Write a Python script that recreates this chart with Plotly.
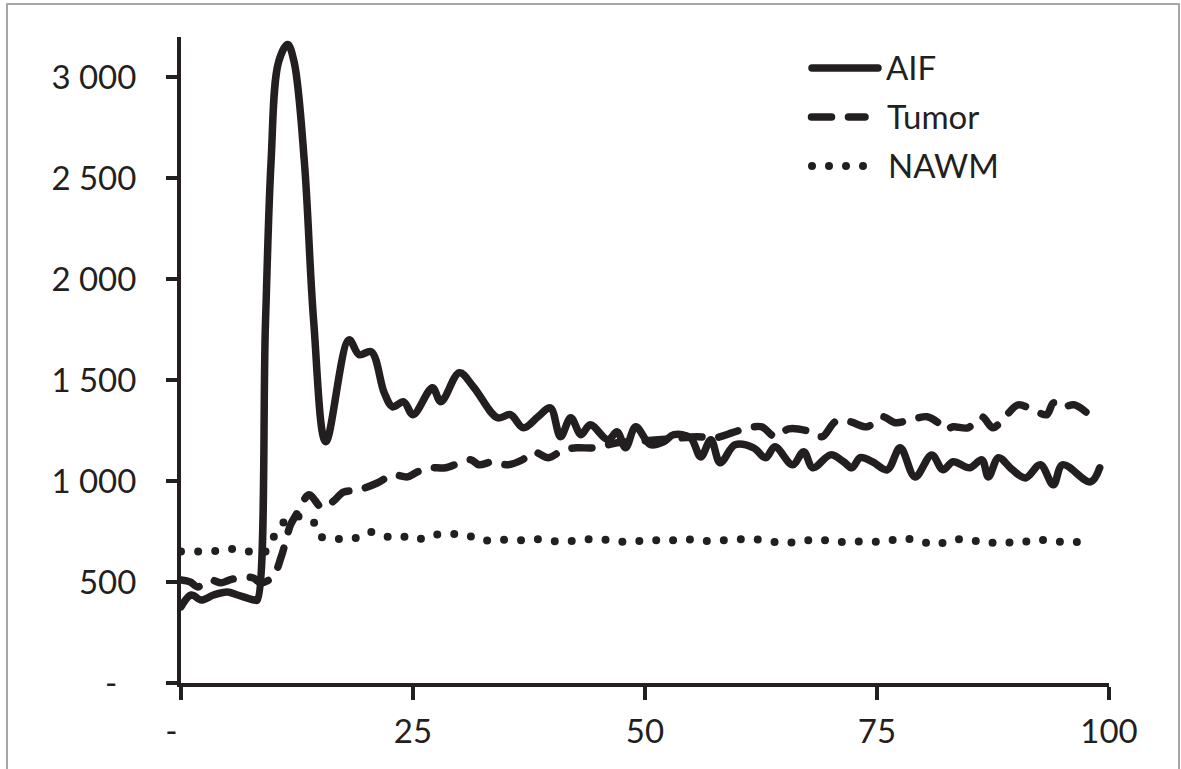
import plotly.graph_objects as go

# ---------------- data ----------------
aif_time = [0, 1.1, 2.2, 3.5, 5.0, 6.1, 7.9, 8.2, 9.1, 9.7, 10.5, 11.5, 12.2, 13.3, 14.3, 15.6,
            18.1, 19.2, 20.5, 21.9, 22.8, 24.0, 25.0, 27.1, 28.0, 30.0, 31.5, 34.1, 35.5, 36.9,
            38.5, 39.8, 40.9, 42.0, 43.1, 44.1, 46.0, 47.0, 47.9, 49.0, 50.6, 52.0, 53.1, 54.9,
            56.0, 57.1, 58.1, 59.7, 61.7, 63.0, 64.0, 65.9, 67.1, 68.1, 70.0, 71.4, 72.3, 73.2,
            74.5, 76.1, 77.5, 79.1, 80.9, 82.1, 83.2, 85.0, 86.3, 87.0, 88.1, 89.5, 91.0, 92.6,
            94.0, 95.0, 98.0, 99.0]
aif_signal = [377, 436, 411, 436, 451, 436, 411, 410, 1780, 2578, 3074, 3163, 3074, 2578, 1790, 1195,
              1700, 1626, 1641, 1438, 1368, 1393, 1329, 1462, 1393, 1537, 1468, 1314, 1329, 1264,
              1320, 1363, 1220, 1314, 1230, 1279, 1205, 1244, 1165, 1269, 1180, 1195, 1230, 1215,
              1120, 1205, 1091, 1180, 1165, 1116, 1170, 1081, 1145, 1066, 1130, 1096, 1066, 1116,
              1096, 1056, 1165, 1021, 1130, 1056, 1096, 1066, 1106, 1021, 1116, 1060, 1016, 1081,
              982, 1081, 996, 1066]

tumor_time = [0, 1.0, 1.8, 3.2, 4.3, 5.2, 6.7, 7.8, 8.6, 9.9, 10.8, 11.8, 12.4, 13.8, 15.2, 16.4,
              17.5, 19.2, 21.2, 22.8, 24.4, 25.5, 26.9, 28.5, 31.2, 32.1, 33.6, 35.2, 36.8, 38.0,
              39.6, 41.2, 42.7, 44.5, 47.0, 50.0, 53.0, 55.6, 57.6, 59.4, 61.1, 62.6, 64.0, 65.5,
              67.5, 69.1, 70.5, 72.1, 73.9, 75.6, 77.0, 78.6, 80.4, 81.6, 82.3, 83.2, 84.8, 86.3,
              87.5, 89.0, 90.2, 92.2, 93.3, 94.0, 94.7, 96.3, 98.4]
tumor_signal = [510, 500, 476, 510, 496, 510, 525, 520, 496, 525, 625, 783, 833, 932, 868, 900,
                945, 957, 992, 1031, 1021, 1046, 1066, 1066, 1106, 1081, 1096, 1081, 1106, 1145,
                1116, 1155, 1165, 1165, 1190, 1200, 1210, 1220, 1215, 1240, 1264, 1269, 1220, 1259,
                1249, 1220, 1294, 1294, 1269, 1319, 1289, 1304, 1319, 1289, 1254, 1269, 1264, 1319,
                1264, 1329, 1378, 1344, 1329, 1388, 1363, 1378, 1305]

nawm_time = [0, 1.9, 3.8, 5.6, 7.4, 9.1, 10.0, 11.1, 12.5, 14.2, 15.1, 16.9, 18.6, 20.3, 21.9,
             23.6, 25.4, 27.0, 28.8, 30.7, 32.4, 34.2, 36.2, 38.0, 39.6, 41.4, 43.3, 45.1, 46.9,
             48.7, 50.5, 52.3, 54.0, 55.9, 57.7, 59.5, 61.2, 63.1, 64.9, 66.7, 68.6, 70.4, 72.3,
             74.2, 75.9, 77.7, 79.5, 81.3, 83.1, 84.8, 86.7, 88.5, 90.4, 92.2, 94.1, 96.0, 97.8]
nawm_signal = [651, 651, 654, 664, 651, 651, 724, 798, 825, 803, 724, 714, 714, 749, 724,
               729, 709, 732, 739, 734, 705, 712, 705, 714, 705, 700, 710, 714, 700,
               700, 710, 702, 715, 704, 705, 709, 715, 705, 693, 700, 714, 698, 702,
               700, 702, 717, 705, 684, 709, 712, 693, 698, 694, 712, 700, 700, 694]

series_names = ["AIF", "Tumor", "NAWM"]

x_tick_vals = [0, 25, 50, 75, 100]
x_tick_text = ["-\u2007", "25", "50", "75", "100"]
y_tick_vals = [0, 500, 1000, 1500, 2000, 2500, 3000]
y_tick_text = ["-\u2007", "500", "1 000", "1 500", "2 000", "2 500", "3 000"]

# ---------------- style ----------------
INK = "#231f20"
FONT = "Lato"
FS = 33
LW = 7.5
TUMOR_DASH = "20px,17px"
NAWM_DASH = "0px,17px"

W_FIG, H_FIG = 1181, 769
M_L, M_R, M_T, M_B = 181, 72, 37, 86
PLOT_W = W_FIG - M_L - M_R
PLOT_H = H_FIG - M_T - M_B


def px_x(p):
    return (p - M_L) / PLOT_W


def px_y(p):
    return (H_FIG - M_B - p) / PLOT_H


fig = go.Figure()
fig.add_trace(go.Scatter(x=aif_time, y=aif_signal, name=series_names[0], mode="lines",
                         line=dict(color=INK, width=LW, shape="spline", smoothing=1.0)))
fig.add_trace(go.Scatter(x=tumor_time, y=tumor_signal, name=series_names[1], mode="lines",
                         line=dict(color=INK, width=LW, shape="spline", smoothing=0.9,
                                   dash=TUMOR_DASH)))
fig.add_trace(go.Scatter(x=nawm_time, y=nawm_signal, name=series_names[2], mode="lines",
                         line=dict(color=INK, width=8, shape="spline", smoothing=0.6,
                                   dash=NAWM_DASH)))

shapes = []
annotations = []
# legend drawn as shapes + text (long line samples like the original)
legend_rows = [(68, 812, 878, None, 884), (117, 811.5, 865, TUMOR_DASH, 885),
               (166, 812, 864, NAWM_DASH, 886)]
for name, (yy, xa, xb, dash, xt) in zip(series_names, legend_rows):
    ln = dict(color=INK, width=LW if dash != NAWM_DASH else 8)
    if dash:
        ln["dash"] = dash
    shapes.append(dict(type="line", xref="paper", yref="paper", x0=px_x(xa), x1=px_x(xb),
                       y0=px_y(yy), y1=px_y(yy), line=ln))
    annotations.append(dict(text=name, xref="paper", yref="paper", x=px_x(xt), y=px_y(yy - 1),
                            xanchor="left", yanchor="middle", showarrow=False,
                            font=dict(family=FONT, size=FS, color=INK)))

# thin grey frame around the chart
shapes.append(dict(type="rect", xref="paper", yref="paper", x0=px_x(7), x1=px_x(1179),
                   y0=px_y(790), y1=px_y(4), line=dict(color="#a6a6a6", width=2),
                   fillcolor="rgba(0,0,0,0)", layer="below"))

axis_common = dict(showline=True, linecolor=INK, linewidth=4, ticks="outside", tickcolor=INK,
                   tickwidth=4, showgrid=False, zeroline=False,
                   tickfont=dict(family=FONT, size=FS, color=INK))

fig.update_layout(
    width=W_FIG, height=H_FIG,
    margin=dict(l=M_L, r=M_R, t=M_T, b=M_B),
    paper_bgcolor="white", plot_bgcolor="white",
    showlegend=False,
    shapes=shapes, annotations=annotations,
    xaxis=dict(range=[0, 100], tickmode="array", tickvals=x_tick_vals, ticktext=x_tick_text,
               ticklen=13, ticklabelstandoff=3, **axis_common),
    yaxis=dict(range=[0, 3200], tickmode="array", tickvals=y_tick_vals, ticktext=y_tick_text,
               ticklen=11, ticklabelstandoff=23, **axis_common),
)

post = ("document.querySelectorAll('path.js-line, .shapelayer path').forEach(function(p){"
        "p.style.strokeLinecap='round';p.style.strokeLinejoin='round';});")
fig.write_html("out.html", post_script=post)
